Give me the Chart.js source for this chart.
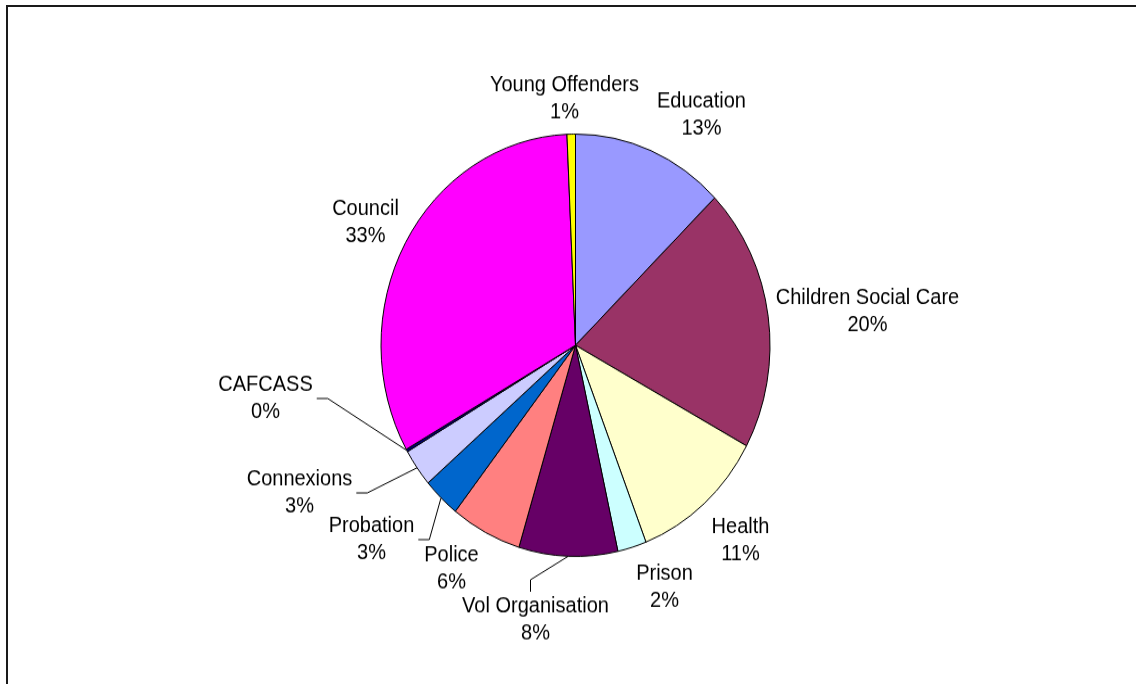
<!DOCTYPE html>
<html>
<head>
<meta charset="utf-8">
<title>Referrals by agency</title>
<script src="https://cdn.jsdelivr.net/npm/chart.js@4.4.1/dist/chart.umd.min.js"></script>
<style>
  html, body { margin: 0; padding: 0; background: #fff; }
  #page { position: relative; width: 1136px; height: 684px; overflow: hidden; }
  #frame { position: absolute; left: 6px; top: 5px; width: 1200px; height: 800px;
           border-top: 2px solid #1a1a1a; border-left: 2px solid #1a1a1a; }
  /* the original pie is a little taller than wide, so stretch the canvas */
  #stretch { position: absolute; left: 0; top: 0; width: 1136px; height: 630px;
             transform: scaleY(1.0857); transform-origin: 0 0; }
</style>
</head>
<body>
<div id="page">
  <div id="frame"></div>
  <div id="stretch">
    <canvas id="pieChart" width="1136" height="630" style="width:1136px;height:630px"></canvas>
  </div>
</div>
<script>
// Data
const categories = ['Education', 'Children Social Care', 'Health', 'Prison', 'Vol Organisation',
                    'Police', 'Probation', 'Connexions', 'CAFCASS', 'Council', 'Young Offenders'];
const shares = [12.7, 20.2, 11.2, 2.4, 8.2, 5.9, 3.1, 2.9, 0.2, 32.5, 0.7];
const sliceColors = ['#9999FF', '#993366', '#FFFFCC', '#CCFFFF', '#660066',
                     '#FF8080', '#0066CC', '#CCCCFF', '#000080', '#FF00FF', '#FFFF00'];

// Label placement: offset of each label block from the pie centre (canvas px)
const labelOffsets = [
    [126, -212], [292, -31], [165, 180], [89, 223], [-40, 253],
    [-124, 206], [-204, 179], [-276, 136], [-310, 49], [-210, -113], [-11, -227]
];
// leader lines for the crowded labels
const leaders = [null, null, null, null, 'top', null, 'left', 'left', 'left', null, null];
const lineGap = 25;

const sliceLabels = {
    id: 'sliceLabels',
    afterDatasetsDraw(chart) {
        const ctx = chart.ctx;
        const meta = chart.getDatasetMeta(0);
        const total = shares.reduce((a, b) => a + b, 0);
        ctx.save();
        ctx.font = '20px "Liberation Sans", Arial, sans-serif';
        ctx.fillStyle = '#000';
        ctx.strokeStyle = '#000';
        ctx.lineWidth = 1;
        ctx.textAlign = 'center';
        ctx.textBaseline = 'middle';
        meta.data.forEach((arc, i) => {
            let lx = arc.x + labelOffsets[i][0];
            let ly = arc.y + labelOffsets[i][1];
            let lines = [categories[i], Math.round(shares[i] / total * 100) + '%'];
            ctx.fillText(lines[0], lx, ly - lineGap / 2);
            ctx.fillText(lines[1], lx, ly + lineGap / 2);

            if (leaders[i]) {
                let mid = (arc.startAngle + arc.endAngle) / 2;
                let ex = arc.x + Math.cos(mid) * arc.outerRadius;
                let ey = arc.y + Math.sin(mid) * arc.outerRadius;
                let sx, sy, kx, ky;
                if (leaders[i] === 'left') {
                    let w = Math.max(...lines.map(t => ctx.measureText(t).width));
                    sx = lx + w / 2 + 4; sy = ly;
                    kx = sx + 11; ky = ly;
                } else {
                    sx = lx - 5; sy = ly - 26;
                    kx = sx; ky = sy - 11;
                }
                ctx.beginPath();
                ctx.moveTo(sx, sy);
                ctx.lineTo(kx, ky);
                ctx.lineTo(ex, ey);
                ctx.stroke();
            }
        });
        ctx.restore();
    }
};

new Chart(document.getElementById('pieChart'), {
    type: 'pie',
    data: {
        labels: categories,
        datasets: [{
            data: shares,
            backgroundColor: sliceColors,
            borderColor: '#000',
            borderWidth: 1
        }]
    },
    options: {
        responsive: false,
        animation: false,
        radius: 194.5,
        layout: { padding: { left: 15, top: 6, right: 0, bottom: 0 } },
        plugins: {
            legend: { display: false },
            tooltip: { enabled: false }
        }
    },
    plugins: [sliceLabels]
});
</script>
</body>
</html>
